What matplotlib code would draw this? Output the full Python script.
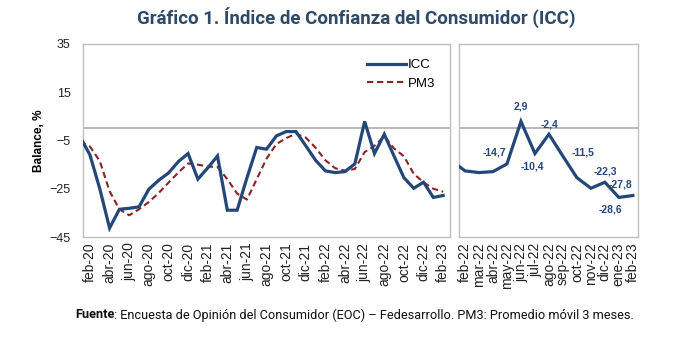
import matplotlib
matplotlib.use("Agg")
import matplotlib.pyplot as plt

plt.rcParams["font.family"] = ["Liberation Sans", "DejaVu Sans"]

NAVY = "#24477a"
RED = "#8b2323"
GRID = "#bfbfbf"

# monthly series, ene-20 .. feb-23 (ene-20 only feeds the clipped first segment)
mes = ["ene", "feb", "mar", "abr", "may", "jun", "jul", "ago", "sep", "oct", "nov", "dic"]
fechas = [f"{m}-{y}" for y in ("20", "21", "22") for m in mes] + ["ene-23", "feb-23"]

icc = [-3.5, -11.0, -25.0, -41.3, -33.5, -33.1, -32.5, -25.2, -21.5, -18.5, -13.8, -10.4,
       -21.0, -16.4, -11.4, -33.9, -33.9, -20.5, -7.9, -8.6, -3.1, -1.3, -1.3, -7.2,
       -13.2, -17.6, -18.3, -17.9, -14.7, 2.9, -10.4, -2.4, -11.5, -20.4, -24.8, -22.3,
       -28.6, -27.8]
pm3 = [-5.5, -7.5, -13.5, -26.0, -33.5, -36.0, -33.5, -30.5, -26.8, -22.5, -18.3, -14.5,
       -15.0, -15.8, -16.0, -21.0, -27.0, -29.5, -21.0, -12.5, -6.5, -4.0, -2.2, -3.8,
       -8.0, -13.2, -16.5, -17.5, -16.8, -9.8, -7.2, -3.3, -8.3, -11.5, -18.8, -22.3,
       -25.0, -26.2]

# value labels on the zoomed panel: month -> offset in pixels
etiquetas = {"may-22": (-13, 11), "jun-22": (0, 15), "jul-22": (-3, -13),
             "ago-22": (1, 10), "sep-22": (20, 4), "dic-22": (1, 11),
             "ene-23": (-8, -12), "feb-23": (-12, 11)}

x = list(range(-1, len(fechas) - 1))   # feb-20 -> 0
pos = dict(zip(fechas, x))

fig = plt.figure(figsize=(7.0, 3.39), dpi=100)
axL = fig.add_axes([83 / 700, 1 - 237 / 339, 367 / 700, 193 / 339])
axR = fig.add_axes([459 / 700, 1 - 237 / 339, 179 / 700, 193 / 339])

for ax in (axL, axR):
    ax.axhline(0, color="#a6a6a6", lw=1.1, zorder=1)
    ax.set_ylim(-45, 35)
    for s in ax.spines.values():
        s.set_color(GRID)
        s.set_linewidth(1.0)
    ax.tick_params(length=0, labelsize=9, colors="#222222")
    ax.tick_params(axis="x", labelsize=10, pad=4)

# left: full history with moving average
axL.plot(x, pm3, color=RED, lw=1.5, dashes=(3, 1.8), label="PM3", zorder=3)
axL.plot(x, icc, color=NAVY, lw=2.3, label="ICC", zorder=4, solid_joinstyle="miter")
axL.set_xlim(-0.71, 36.7)
axL.set_yticks(range(-45, 36, 20))
axL.set_xticks(x[1::2])
axL.set_xticklabels(fechas[1::2], rotation=90)
axL.tick_params(axis="y", pad=9)
axL.set_ylabel("Balance, %", fontsize=8.5, fontweight="bold", labelpad=3)
h, l = axL.get_legend_handles_labels()
axL.legend(h[::-1], l[::-1], loc="upper right", bbox_to_anchor=(0.975, 0.95),
           frameon=False, fontsize=9.5, handlelength=2.9, handletextpad=0.2,
           borderaxespad=0, labelspacing=0.5)

# right: last thirteen months with value labels
axR.plot(x[24:], icc[24:], color=NAVY, lw=2.3, zorder=4, solid_joinstyle="miter")
axR.set_xlim(24 - 0.43, 24 + 12.37)
axR.set_xticks(x[25:])
axR.set_xticklabels(fechas[25:], rotation=90)
axR.set_yticks([])
for f, (dx, dy) in etiquetas.items():
    v = icc[fechas.index(f)]
    axR.annotate(f"{v:.1f}".replace(".", ","), (pos[f], v), xytext=(dx, dy),
                 textcoords="offset pixels", ha="center", va="center",
                 fontsize=7.5, fontweight="bold", color=NAVY, zorder=5)

fig.text(356 / 700, 1 - 18 / 339, "Gráfico 1. Índice de Confianza del Consumidor (ICC)",
         ha="center", va="center", fontsize=13.5, fontweight="bold",
         color="#2f4a68", family=["Roboto", "DejaVu Sans"])

# source line: bold "Fuente" followed by regular text
r = fig.canvas.get_renderer()
t0 = fig.text(75 / 700, 1 - 315 / 339, "Fuente", ha="left", va="center", fontsize=9.2,
              fontweight="bold", family=["Roboto", "DejaVu Sans"], color="#111111")
bb = t0.get_window_extent(renderer=r)
fig.text(bb.x1 / fig.bbox.width, 1 - 315 / 339,
         ": Encuesta de Opinión del Consumidor (EOC) – Fedesarrollo. PM3: Promedio móvil 3 meses.",
         ha="left", va="center", fontsize=9.2, family=["Roboto", "DejaVu Sans"], color="#111111")

fig.savefig("out.png", dpi=100)
